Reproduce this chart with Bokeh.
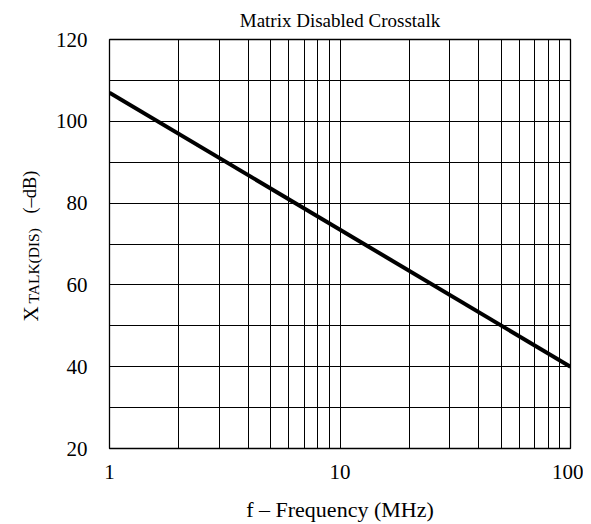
import math
from bokeh.plotting import figure
from bokeh.layouts import row
from bokeh.models import FixedTicker, NumeralTickFormatter
from bokeh.core.properties import value
from bokeh.embed import file_html
from bokeh.resources import INLINE

freq_mhz = [1, 100]
xtalk_db = [107, 40]
x_ticks = [1, 10, 100]
x_minor = [2, 3, 4, 5, 6, 7, 8, 9, 20, 30, 40, 50, 60, 70, 80, 90]
y_ticks = [20, 40, 60, 80, 100, 120]
y_minor = [30, 50, 70, 90, 110]

FONT = "Liberation Serif"
H = 524
LW = 50          # width of the y-label strip
W = 583 - LW     # width of the main figure
FT, FB = 39, 448  # frame top / bottom in page pixels (frames are aligned in the row)

# ---- y-axis label strip (with subscript); y is -page_y ----
lab = figure(width=LW, height=H, x_range=(0, LW), y_range=(-FB, -FT), title=None,
             output_backend="svg", toolbar_location=None,
             x_axis_location=None, y_axis_location=None,
             min_border=0, min_border_left=0, min_border_right=0,
             min_border_top=0, min_border_bottom=0)
lab.outline_line_color = None
lab.xgrid.visible = False
lab.ygrid.visible = False
lab.background_fill_color = "white"
lab.border_fill_color = "white"

lab.text(x=[30], y=[-321], text=["X"], angle=math.pi / 2,
         text_font=value(FONT), text_font_size="21px", text_color="black",
         text_align="left", text_baseline="alphabetic")
lab.text(x=[33], y=[-303], text=["TALK(DIS)"], angle=math.pi / 2,
         text_font=value(FONT), text_font_size="15.5px", text_color="black",
         text_align="left", text_baseline="alphabetic")
lab.text(x=[29], y=[-213], text=["(\u2013dB)"], angle=math.pi / 2,
         text_font=value(FONT), text_font_size="18.4px", text_color="black",
         text_align="left", text_baseline="alphabetic")

# ---- main chart ----
p = figure(width=W, height=H, x_axis_type="log", x_range=(1, 100), y_range=(20, 120),
           output_backend="svg", toolbar_location=None,
           min_border_left=109 - LW, min_border_right=13, min_border_top=FT,
           min_border_bottom=H - FB)

p.title.text = "Matrix Disabled Crosstalk"
p.title.align = "center"
p.title.vertical_align = "top"
p.title.text_font = FONT
p.title.text_font_size = "19px"
p.title.text_font_style = "normal"
p.title.text_color = "black"
p.title.standoff = 13

p.outline_line_color = "black"
p.outline_line_width = 1.3

p.xaxis.ticker = FixedTicker(ticks=x_ticks, minor_ticks=x_minor)
p.xaxis.formatter = NumeralTickFormatter(format="0")
p.yaxis.ticker = FixedTicker(ticks=y_ticks, minor_ticks=y_minor)

for ax in (p.xaxis[0], p.yaxis[0]):
    ax.axis_line_color = None
    ax.major_tick_line_color = None
    ax.minor_tick_line_color = None
    ax.major_label_text_font = FONT
    ax.major_label_text_font_size = "21px"
    ax.major_label_text_color = "black"
    ax.axis_label_text_font = FONT
    ax.axis_label_text_font_size = "22px"
    ax.axis_label_text_font_style = "normal"
    ax.axis_label_text_color = "black"

p.xaxis.major_label_standoff = 10
p.yaxis.major_label_standoff = 16
p.xaxis.axis_label = "f \u2013 Frequency (MHz)"
p.xaxis.axis_label_standoff = 15
p.yaxis.axis_label = None

for g in (p.xgrid[0], p.ygrid[0]):
    g.grid_line_color = "black"
    g.grid_line_width = 1
    g.grid_line_alpha = 1
    g.minor_grid_line_color = "black"
    g.minor_grid_line_width = 1

p.line(freq_mhz, xtalk_db, line_color="black", line_width=4)

p.background_fill_color = "white"
p.border_fill_color = "white"

layout = row(lab, p)
open("out.html", "w").write(file_html(layout, INLINE))
